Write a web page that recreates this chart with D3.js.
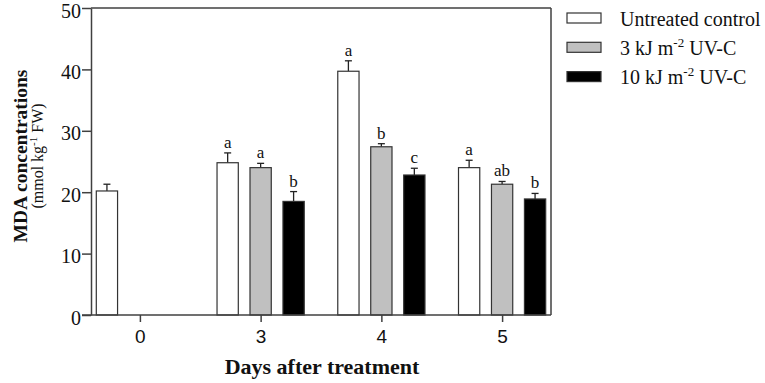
<!DOCTYPE html>
<html>
<head>
<meta charset="utf-8">
<script src="https://cdn.jsdelivr.net/npm/d3@7"></script>
<style>
  body { margin: 0; background: #fff; }
  svg { display: block; font-family: "Liberation Serif", "Times New Roman", serif; }
</style>
</head>
<body>
<svg id="chart"></svg>
<script>
// data
const days = ["0", "3", "4", "5"];
const seriesNames = ["control", "uv3", "uv10"];
const control    = [20.2, 24.8, 39.7, 24.0];
const controlErr = [1.1, 1.6, 1.7, 1.2];
const uv3        = [null, 24.0, 27.4, 21.3];
const uv3Err     = [null, 0.7, 0.5, 0.45];
const uv10       = [null, 18.5, 22.8, 18.9];
const uv10Err    = [null, 1.6, 1.1, 0.9];
const controlLetters = ["", "a", "a", "a"];
const uv3Letters     = ["", "a", "b", "ab"];
const uv10Letters    = ["", "b", "c", "b"];
const yTicks = [0, 10, 20, 30, 40, 50];

const colors = { control: "#ffffff", uv3: "#c0c0c0", uv10: "#000000" };
const axisColor = "#404040";
const serif = "'Liberation Serif', 'Times New Roman', serif";

const width = 765, height = 383;
const margin = { top: 8, right: 214, bottom: 68, left: 91 };
const innerW = width - margin.left - margin.right;
const innerH = height - margin.top - margin.bottom;

const svg = d3.select("#chart").attr("width", width).attr("height", height);
const chart = svg.append("g").attr("transform", `translate(${margin.left},${margin.top})`);

const xscale = d3.scalePoint().domain(days).range([0, innerW]).padding(0.405);
const sub = d3.scaleBand().domain(seriesNames).range([-43.6, 43.6]).paddingInner(0.355);
const yscale = d3.scaleLinear().domain([0, 50]).range([innerH, 0]);

// rows
const rows = [];
days.forEach((d, i) => {
  rows.push({ day: d, key: "control", v: control[i], e: controlErr[i], l: controlLetters[i] });
  rows.push({ day: d, key: "uv3", v: uv3[i], e: uv3Err[i], l: uv3Letters[i] });
  rows.push({ day: d, key: "uv10", v: uv10[i], e: uv10Err[i], l: uv10Letters[i] });
});
const data = rows.filter(r => r.v != null);

// frame (top and right)
chart.append("line").attr("x1", 0).attr("x2", innerW).attr("y1", 0).attr("y2", 0)
  .attr("stroke", axisColor).attr("stroke-width", 1.5);
chart.append("line").attr("x1", innerW).attr("x2", innerW).attr("y1", 0).attr("y2", innerH)
  .attr("stroke", axisColor).attr("stroke-width", 1.5);

// error bars
const bx = d => xscale(d.day) + sub(d.key);
const err = chart.append("g");
err.selectAll("line.v").data(data).join("line")
  .attr("x1", d => bx(d) + sub.bandwidth() / 2).attr("x2", d => bx(d) + sub.bandwidth() / 2)
  .attr("y1", d => yscale(d.v)).attr("y2", d => yscale(d.v + d.e))
  .attr("stroke", "#222").attr("stroke-width", 1.3);
err.selectAll("line.c").data(data).join("line")
  .attr("x1", d => bx(d) + sub.bandwidth() / 2 - 3.5).attr("x2", d => bx(d) + sub.bandwidth() / 2 + 3.5)
  .attr("y1", d => yscale(d.v + d.e)).attr("y2", d => yscale(d.v + d.e))
  .attr("stroke", "#222").attr("stroke-width", 1.3);

// bars
chart.selectAll("rect.bar").data(data).join("rect")
  .attr("class", "bar")
  .attr("x", d => bx(d))
  .attr("y", d => yscale(d.v))
  .attr("width", sub.bandwidth())
  .attr("height", d => innerH - yscale(d.v))
  .attr("fill", d => colors[d.key])
  .attr("stroke", "#333").attr("stroke-width", 1.2);

// significance letters
chart.selectAll("text.sig").data(data.filter(d => d.l)).join("text")
  .attr("x", d => bx(d) + sub.bandwidth() / 2)
  .attr("y", d => yscale(d.v + d.e) - 5)
  .attr("text-anchor", "middle")
  .style("font-family", serif)
  .style("font-size", "17px")
  .attr("fill", "#111")
  .text(d => d.l);

// axes
const yaxis = d3.axisLeft(yscale).tickValues(yTicks).tickSize(9).tickPadding(1).tickSizeOuter(0);
const xaxis = d3.axisBottom(xscale).tickSize(7).tickPadding(8).tickSizeOuter(0);

const yg = chart.append("g").call(yaxis);
yg.select(".domain").attr("stroke", axisColor).attr("stroke-width", 1.5);
yg.selectAll(".tick line").attr("stroke", axisColor).attr("stroke-width", 1.5);
yg.selectAll(".tick text")
  .style("font-family", serif).style("font-size", "20px")
  .attr("fill", "#111").attr("dy", "0.45em");

const xg = chart.append("g").attr("transform", `translate(0,${innerH})`).call(xaxis);
xg.select(".domain").attr("stroke", axisColor).attr("stroke-width", 1.5)
  .attr("d", `M-9,0H${innerW}`);
xg.selectAll(".tick line").attr("stroke", axisColor).attr("stroke-width", 1.5);
xg.selectAll(".tick text")
  .style("font-family", "'Liberation Sans', Arial, sans-serif").style("font-size", "19px")
  .attr("fill", "#111");

// axis titles
svg.append("text")
  .attr("x", 322)
  .attr("y", 374)
  .attr("text-anchor", "middle")
  .style("font-family", serif)
  .style("font-weight", "bold")
  .style("font-size", "22px")
  .attr("fill", "#111")
  .text("Days after treatment");

const yt = svg.append("g").attr("transform", "translate(27,156) rotate(-90)");
yt.append("text").attr("text-anchor", "middle")
  .style("font-family", serif)
  .style("font-weight", "bold").style("font-size", "19.5px").attr("fill", "#111")
  .text("MDA concentrations");
const yt2 = yt.append("text").attr("text-anchor", "middle").attr("y", 16)
  .style("font-family", serif)
  .style("font-size", "16px").attr("fill", "#111");
yt2.append("tspan").text("(mmol kg");
yt2.append("tspan").style("font-size", "11px").attr("dy", -6).text("-1");
yt2.append("tspan").attr("dy", 6).text(" FW)");

// legend
const legendItems = [
  { key: "control", pre: "Untreated control", sup: null, post: "" },
  { key: "uv3", pre: "3 kJ m", sup: "-2", post: " UV-C" },
  { key: "uv10", pre: "10 kJ m", sup: "-2", post: " UV-C" }
];
const legend = svg.append("g").attr("transform", "translate(567,18)");
legendItems.forEach((it, i) => {
  const g = legend.append("g").attr("transform", `translate(0,${i * 29.3})`);
  g.append("rect").attr("x", 0).attr("y", -5).attr("width", 34).attr("height", 10)
    .attr("fill", colors[it.key]).attr("stroke", "#333").attr("stroke-width", 1.2);
  const t = g.append("text").attr("x", 53).attr("y", 7.5)
    .style("font-family", serif)
    .style("font-size", "20px").attr("fill", "#111");
  t.append("tspan").text(it.pre);
  if (it.sup) {
    t.append("tspan").style("font-size", "13px").attr("dy", -8).text(it.sup);
    t.append("tspan").attr("dy", 8).text(it.post);
  }
});
</script>
</body>
</html>
